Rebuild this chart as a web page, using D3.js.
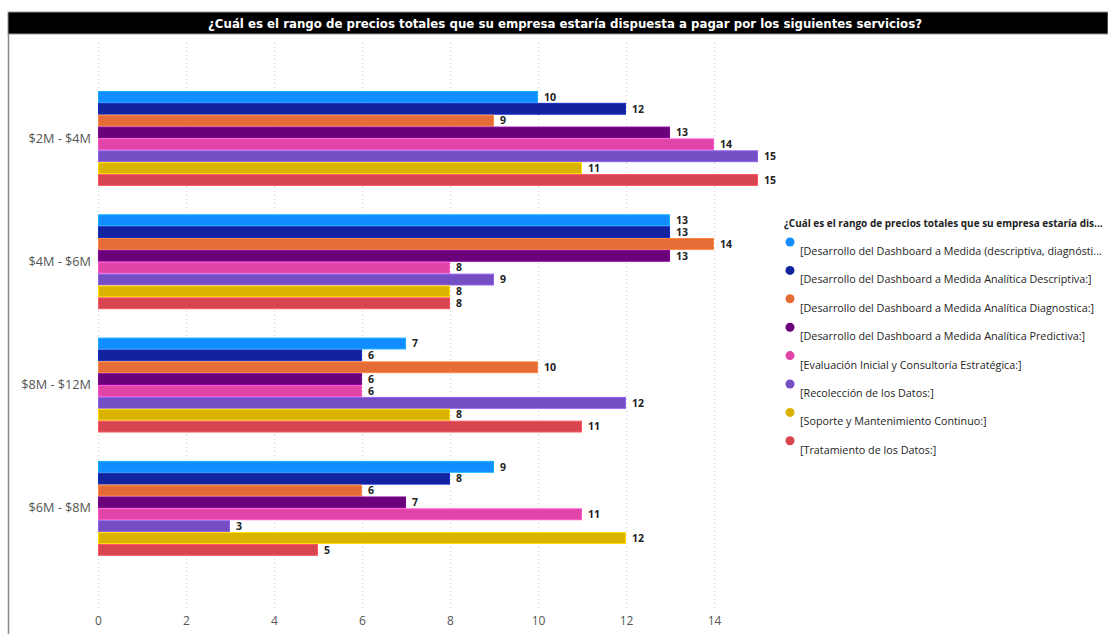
<!DOCTYPE html>
<html>
<head>
<meta charset="utf-8">
<script src="https://cdn.jsdelivr.net/npm/d3@7"></script>
<style>
  html, body { margin: 0; padding: 0; background: #fff; }
  svg { display: block; }
</style>
</head>
<body>
<svg id="chart" width="1108" height="634"></svg>
<script>
// Price ranges (rows) and services (series)
const categories = ["$2M - $4M", "$4M - $6M", "$8M - $12M", "$6M - $8M"];
const seriesNames = [
  "[Desarrollo del Dashboard a Medida (descriptiva, diagnósti...",
  "[Desarrollo del Dashboard a Medida Analítica Descriptiva:]",
  "[Desarrollo del Dashboard a Medida Analítica Diagnostica:]",
  "[Desarrollo del Dashboard a Medida Analítica Predictiva:]",
  "[Evaluación Inicial y Consultoría Estratégica:]",
  "[Recolección de los Datos:]",
  "[Soporte y Mantenimiento Continuo:]",
  "[Tratamiento de los Datos:]"
];
const seriesColors = ["#118DFF", "#12239E", "#E66C37", "#6B007B", "#E044A7", "#744EC2", "#D9B300", "#D64550"];
// counts per price range, one value per service in series order
const values2to4 = [10, 12, 9, 13, 14, 15, 11, 15];
const values4to6 = [13, 13, 14, 13, 8, 9, 8, 8];
const values8to12 = [7, 6, 10, 6, 6, 12, 8, 11];
const values6to8 = [9, 8, 6, 7, 11, 3, 12, 5];
const rowValues = [values2to4, values4to6, values8to12, values6to8];
const xTicks = [0, 2, 4, 6, 8, 10, 12, 14];

const titleText = "¿Cuál es el rango de precios totales que su empresa estaría dispuesta a pagar por los siguientes servicios?";
const legendTitle = "¿Cuál es el rango de precios totales que su empresa estaría dis...";

const svg = d3.select("#chart");
const font = "'Open Sans', 'Noto Sans', sans-serif";

// Title bar
svg.append("rect").attr("x", 8).attr("y", 12).attr("width", 1100).attr("height", 22)
  .attr("fill", "#000").attr("stroke", "#999").attr("stroke-width", 1);
svg.append("text").attr("x", 565).attr("y", 27.5).attr("text-anchor", "middle")
  .attr("fill", "#fff").attr("font-family", "'DejaVu Sans Condensed', 'DejaVu Sans', sans-serif")
  .attr("font-weight", "bold").attr("font-size", 12.5)
  .attr("textLength", 714).attr("lengthAdjust", "spacingAndGlyphs")
  .text(titleText);

// Left frame border
svg.append("line").attr("x1", 8.5).attr("x2", 8.5).attr("y1", 34).attr("y2", 634)
  .attr("stroke", "#8a8a8a").attr("stroke-width", 1.5);

// Scales
const x = d3.scaleLinear().domain([0, 15]).range([98, 758]);
const y = d3.scaleBand().domain(categories).range([76.8, 570]).paddingInner(0.23).paddingOuter(0.115);
const ySub = d3.scaleBand().domain(d3.range(seriesNames.length)).range([0, y.bandwidth()]);

// Gridlines
svg.append("g").selectAll("line").data(xTicks).join("line")
  .attr("x1", d => x(d) + 0.5).attr("x2", d => x(d) + 0.5)
  .attr("y1", 43).attr("y2", 610)
  .attr("stroke", "#cfcfcf").attr("stroke-width", 1).attr("stroke-dasharray", "1,3");

// X tick labels
const xAxis = d3.axisBottom(x).tickValues(xTicks).tickSize(0).tickPadding(0);
const gx = svg.append("g").attr("transform", "translate(0,614)").call(xAxis);
gx.select(".domain").remove();
gx.selectAll("text").attr("font-family", font).attr("font-size", 12).attr("fill", "#555")
  .attr("dy", "0.9em");

// Category labels
const yAxis = d3.axisLeft(y).tickSize(0).tickPadding(0);
const gy = svg.append("g").attr("transform", "translate(91,0)").call(yAxis);
gy.select(".domain").remove();
gy.selectAll("text").attr("font-family", font).attr("font-size", 12.7).attr("fill", "#555");

// Bars
const rows = svg.append("g").selectAll("g").data(categories).join("g")
  .attr("transform", d => `translate(0,${y(d)})`);

const cells = rows.selectAll("g").data((c, i) => rowValues[i].map((v, j) => ({v, j}))).join("g");

cells.append("rect")
  .attr("x", x(0) + 0.5)
  .attr("y", d => ySub(d.j) + 0.5)
  .attr("width", d => x(d.v) - x(0) - 1)
  .attr("height", ySub.bandwidth() - 1)
  .attr("fill", d => seriesColors[d.j])
  .attr("stroke", d => d3.color(seriesColors[d.j]).brighter(0.6))
  .attr("stroke-width", 1);

// Value labels with white backing
cells.append("rect")
  .attr("x", d => x(d.v) + 1)
  .attr("y", d => ySub(d.j) + 0.5)
  .attr("width", d => (d.v >= 10 ? 20 : 13))
  .attr("height", ySub.bandwidth() - 1)
  .attr("fill", "#fff");
cells.append("text")
  .attr("x", d => x(d.v) + 6)
  .attr("y", d => ySub(d.j) + ySub.bandwidth() / 2)
  .attr("dy", "0.36em")
  .attr("font-family", font).attr("font-weight", "bold").attr("font-size", 10.5)
  .attr("fill", "#222")
  .text(d => d.v);

// Legend: fonts sized so the longest entries span the legend column (784..1103)
const legend = svg.append("g");
const lTitle = legend.append("text").attr("x", 784).attr("y", 226.5)
  .attr("font-family", font).attr("font-weight", "bold").attr("font-size", 10).attr("fill", "#222")
  .text(legendTitle);
const titleW = lTitle.node().getComputedTextLength();
lTitle.attr("font-size", 10 * 319 / titleW);

const items = legend.selectAll("g.item").data(seriesNames).join("g").attr("class", "item")
  .attr("transform", (d, i) => `translate(0,${242 + i * 28.4})`);
items.append("circle").attr("cx", 790).attr("cy", 0).attr("r", 4.5)
  .attr("fill", (d, i) => seriesColors[i]);
const itemText = items.append("text").attr("x", 800).attr("y", 13)
  .attr("font-family", font).attr("font-size", 10).attr("fill", "#252423")
  .text(d => d);
const firstW = itemText.nodes()[0].getComputedTextLength();
itemText.attr("font-size", 10 * 302 / firstW);
</script>
</body>
</html>
